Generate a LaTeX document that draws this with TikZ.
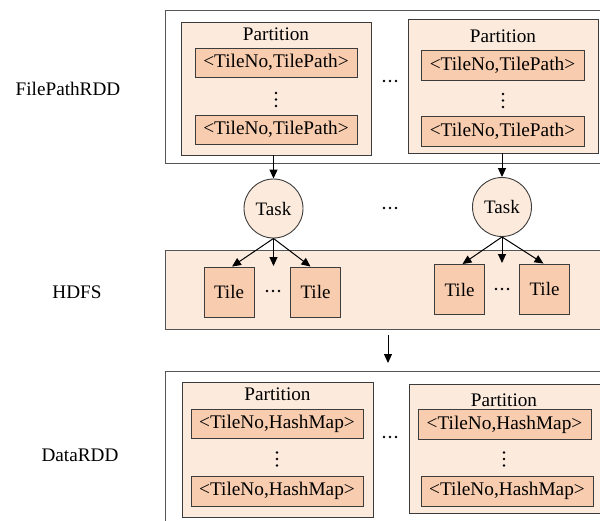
\documentclass[tikz,border=0pt]{standalone}
\usepackage{fontspec}
\setmainfont{Liberation Serif}
\usetikzlibrary{arrows.meta}
\definecolor{lightpeach}{RGB}{252,234,220}
\definecolor{peach}{RGB}{248,204,174}
\definecolor{edgegray}{RGB}{60,60,60}
\definecolor{framegray}{RGB}{85,85,85}
\tikzset{
  layerbox/.style={draw=framegray, line width=0.9pt, rectangle, inner sep=0pt},
  partbox/.style={draw=edgegray, line width=0.9pt, fill=lightpeach, rectangle, inner sep=0pt},
  pairbox/.style={draw=edgegray, line width=0.9pt, fill=peach, rectangle, inner sep=0pt,
                  font=\fontsize{19.3}{20}\selectfont},
  tilebox/.style={draw=edgegray, line width=0.9pt, fill=peach, rectangle, inner sep=0pt,
                  minimum width=50, minimum height=50, font=\fontsize{19}{20}\selectfont},
  taskcirc/.style={draw=edgegray, line width=0.9pt, fill=lightpeach, circle, inner sep=0pt,
                   minimum size=59, font=\fontsize{19}{20}\selectfont},
  lbl/.style={font=\fontsize{19.2}{20}\selectfont, inner sep=0pt},
  arr/.style={-{Triangle[length=9pt,width=8pt]}, line width=1pt, black},
}
% vertical and horizontal runs of three dots
\newcommand{\vthreedots}[2]{%
  \fill (#1,#2-6.5) circle (1.4);
  \fill (#1,#2) circle (1.4);
  \fill (#1,#2+6.5) circle (1.4);}
\newcommand{\hthreedots}[2]{%
  \fill (#1-6,#2) circle (1.3);
  \fill (#1,#2) circle (1.3);
  \fill (#1+6,#2) circle (1.3);}
\begin{document}
\begin{tikzpicture}[x=1pt, y=-1pt]
\path[use as bounding box] (0,0) rectangle (600,520);
\clip (0,0) rectangle (600,520);

% layer labels
\node[lbl] (lfp) at (68,89) {FilePathRDD};
\node[lbl] (lhd) at (77,292) {HDFS};
\node[lbl] (ldr) at (80,455) {DataRDD};

% ---------- FilePathRDD ----------
\node[layerbox, fill=white, minimum width=445, minimum height=153] (fp) at (387.5,86.5) {};
\node[partbox, minimum width=190, minimum height=133] (p1) at (276,88.5) {};
\node[lbl] (p1t) at (276,34) {Partition};
\node[pairbox, minimum width=162, minimum height=29] (p1a) at (276,62.5) {<TileNo,TilePath>};
\node[pairbox, minimum width=162, minimum height=29] (p1b) at (276,129.5) {<TileNo,TilePath>};
\vthreedots{276}{99.5}

\node[partbox, minimum width=190, minimum height=134] (p2) at (503,86) {};
\node[lbl] (p2t) at (503,36) {Partition};
\node[pairbox, minimum width=163, minimum height=30] (p2a) at (502.5,65) {<TileNo,TilePath>};
\node[pairbox, minimum width=163, minimum height=30] (p2b) at (502.5,131) {<TileNo,TilePath>};
\vthreedots{503}{100.5}

\hthreedots{390}{81}

% ---------- Tasks ----------
\node[taskcirc] (task1) at (273.5,208.5) {Task};
\node[taskcirc] (task2) at (502,207) {Task};
\hthreedots{390}{208}

\draw[arr] (p1.south -| task1) -- (task1.north);
\draw[arr] (p2.south -| task2) -- (task2.north);

% ---------- HDFS ----------
\node[layerbox, fill=lightpeach, minimum width=445, minimum height=79] (hdfs) at (387.5,289.5) {};
\node[tilebox] (t1) at (229,292) {Tile};
\node[tilebox] (t2) at (315.5,292) {Tile};
\hthreedots{273}{291}
\node[tilebox] (t3) at (459.5,289.5) {Tile};
\node[tilebox] (t4) at (544.5,289) {Tile};
\hthreedots{502}{289}

\coordinate (m1) at (273.5,266);
\coordinate (m2) at (502,263);
\draw[arr] (task1.south) -- ([xshift=3]t1.north);
\draw[arr] (task1.south) -- (m1);
\draw[arr] (task1.south) -- ([xshift=-5]t2.north);
\draw[arr] (task2.south) -- ([xshift=3]t3.north);
\draw[arr] (task2.south) -- (m2);
\draw[arr] (task2.south) -- ([xshift=-1]t4.north);

% ---------- DataRDD ----------
\node[layerbox, fill=white, minimum width=445, minimum height=169] (dr) at (387.5,455.5) {};
\coordinate (a0) at (388,335);
\coordinate (a1) at (388,363);
\draw[arr] (a0) -- (a1);

\node[partbox, minimum width=191, minimum height=135] (p3) at (277.5,449.5) {};
\node[lbl] (p3t) at (277.5,394) {Partition};
\node[pairbox, minimum width=172, minimum height=29] (p3a) at (277,423.5) {<TileNo,HashMap>};
\node[pairbox, minimum width=172, minimum height=30] (p3b) at (277,491) {<TileNo,HashMap>};
\vthreedots{277}{459}

\node[partbox, minimum width=200, minimum height=129] (p4) at (509,448.5) {};
\node[lbl] (p4t) at (504,400) {Partition};
\node[pairbox, minimum width=173, minimum height=30] (p4a) at (504.5,424.5) {<TileNo,HashMap>};
\node[pairbox, minimum width=172, minimum height=30] (p4b) at (507,491) {<TileNo,HashMap>};
\vthreedots{504}{459}

\hthreedots{390}{437}
\end{tikzpicture}
\end{document}
